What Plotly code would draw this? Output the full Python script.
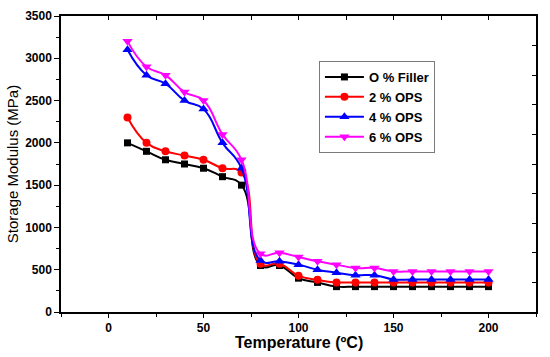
import plotly.graph_objects as go

temperature = [10, 20, 30, 40, 50, 60, 70, 80, 90, 100, 110, 120, 130, 140, 150, 160, 170, 180, 190, 200]
filler_0 = [2000, 1900, 1800, 1750, 1700, 1600, 1500, 550, 550, 400, 350, 300, 300, 300, 300, 300, 300, 300, 300, 300]
ops_2 = [2300, 2000, 1900, 1850, 1800, 1700, 1650, 570, 570, 430, 380, 350, 350, 350, 350, 350, 350, 350, 350, 350]
ops_4 = [3100, 2800, 2700, 2500, 2400, 2000, 1700, 610, 600, 560, 500, 465, 435, 435, 385, 385, 385, 385, 385, 385]
ops_6 = [3200, 2900, 2800, 2600, 2500, 2100, 1800, 690, 700, 650, 600, 560, 520, 520, 480, 480, 480, 480, 480, 480]

series_names = ["O % Filler", "2 % OPS", "4 % OPS", "6 % OPS"]
series_values = [filler_0, ops_2, ops_4, ops_6]
colors = ["#000000", "#ff0000", "#0000ff", "#ff00ff"]
symbols = ["square", "circle", "triangle-up", "triangle-down"]
sizes = [7, 8, 9, 9]

y_ticks = [0, 500, 1000, 1500, 2000, 2500, 3000, 3500]
x_ticks = [0, 50, 100, 150, 200]

fig = go.Figure()
for name, vals, c, s, sz in zip(series_names, series_values, colors, symbols, sizes):
    fig.add_trace(go.Scatter(
        x=temperature, y=vals, name=name, mode="lines+markers",
        line=dict(color=c, width=2, shape="spline", smoothing=1.3),
        marker=dict(color=c, symbol=s, size=sz),
    ))

# invisible trace to drive mirror axes (top and right)
fig.add_trace(go.Scatter(x=[0], y=[0], xaxis="x2", yaxis="y2", showlegend=False,
                         mode="markers", marker=dict(opacity=0), hoverinfo="skip"))

font_family = "Liberation Sans, Arial, sans-serif"
fig.update_layout(
    width=550, height=357,
    margin=dict(l=61, r=14, t=16, b=45, autoexpand=False),
    paper_bgcolor="white", plot_bgcolor="white",
    font=dict(family=font_family, color="black"),
    showlegend=True,
    legend=dict(
        x=0.543, y=0.848, xanchor="left", yanchor="top",
        bordercolor="#7a7a7a", borderwidth=1, bgcolor="white",
        font=dict(size=13, family=font_family, weight="bold"),
        tracegroupgap=0, itemwidth=39,
    ),
    xaxis=dict(
        range=[-25, 225], tickvals=x_ticks, ticks="outside", ticklen=4, tickwidth=1,
        tickcolor="black", showline=True, linecolor="black", linewidth=1.5,
        showgrid=False, zeroline=False, automargin=False,
        minor=dict(dtick=25, tick0=-25, ticks="outside", ticklen=3, tickcolor="black", showgrid=False),
        tickfont=dict(size=12, weight="bold"),
    ),
    yaxis=dict(
        range=[0, 3500], tickvals=y_ticks, ticks="outside", ticklen=5, tickwidth=1,
        tickcolor="black", showline=True, linecolor="black", linewidth=1.5,
        showgrid=False, zeroline=False, automargin=False,
        minor=dict(dtick=250, tick0=0, ticks="outside", ticklen=3, tickcolor="black", showgrid=False),
        tickfont=dict(size=12, weight="bold"),
        title=dict(text="Storage Modulus (MPa)", font=dict(size=15), standoff=3),
    ),
    xaxis2=dict(
        overlaying="x", side="top", range=[-25, 225], dtick=25, tick0=-25,
        ticks="inside", ticklen=4, tickcolor="black", showticklabels=False, automargin=False,
        showline=True, linecolor="black", linewidth=1.5, showgrid=False, zeroline=False,
    ),
    yaxis2=dict(
        overlaying="y", side="right", range=[0, 10], dtick=1, tick0=0,
        ticks="inside", ticklen=4, tickcolor="black", showticklabels=False, automargin=False,
        showline=True, linecolor="black", linewidth=1.5, showgrid=False, zeroline=False,
    ),
    annotations=[dict(
        text="Temperature (ºC)", xref="paper", yref="paper", x=0.5, y=-0.104,
        xanchor="center", yanchor="middle", showarrow=False,
        font=dict(size=16, weight="bold", family=font_family, color="black"),
    )],
)

fig.write_html("out.html", config={"displayModeBar": False},
               post_script="document.body.style.margin='0px';")
